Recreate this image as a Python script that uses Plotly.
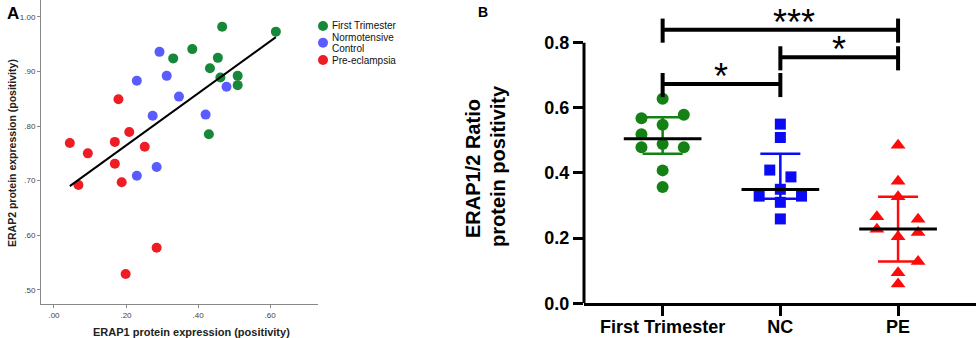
import numpy as np
import plotly.graph_objects as go

# ---------------- Panel A data (ERAP1 vs ERAP2 positivity) ----------------
ft_erap1 = [0.467, 0.616, 0.384, 0.331, 0.455, 0.433, 0.462, 0.510, 0.510, 0.430]
ft_erap2 = [0.982, 0.973, 0.941, 0.924, 0.925, 0.906, 0.889, 0.892, 0.875, 0.785]
nc_erap1 = [0.293, 0.230, 0.313, 0.347, 0.274, 0.421, 0.479, 0.285, 0.230]
nc_erap2 = [0.936, 0.883, 0.892, 0.854, 0.819, 0.821, 0.872, 0.725, 0.709]
pe_erap1 = [0.179, 0.209, 0.169, 0.252, 0.044, 0.094, 0.169, 0.068, 0.188, 0.285, 0.199]
pe_erap2 = [0.849, 0.789, 0.771, 0.762, 0.769, 0.750, 0.731, 0.692, 0.697, 0.577, 0.529]

a_groups = ["First Trimester", "Normotensive Control", "Pre-eclampsia"]
a_legend_lines = [["First Trimester"], ["Normotensive", "Control"], ["Pre-eclampsia"]]
a_xticks = [0.0, 0.2, 0.4, 0.6]
a_xticktext = [".00", ".20", ".40", ".60"]
a_yticks = [0.5, 0.6, 0.7, 0.8, 0.9, 1.0]
a_yticktext = [".50", ".60", ".70", ".80", ".90", "1.00"]
a_xtitle = "ERAP1 protein expression (positivity)"
a_ytitle = "ERAP2 protein expression (positivity)"

# ---------------- Panel B data (ERAP1/2 ratio) ----------------
b_categories = ["First Trimester", "NC", "PE"]
ft_ratio = [0.628, 0.568, 0.579, 0.548, 0.519, 0.479, 0.489, 0.479, 0.408, 0.357]
ft_offset = [0.0, -0.18, 0.18, 0.0, -0.18, -0.18, 0.0, 0.18, 0.0, 0.0]
nc_ratio = [0.550, 0.509, 0.409, 0.388, 0.350, 0.329, 0.329, 0.310, 0.259]
nc_offset = [0.0, 0.0, -0.09, 0.09, 0.0, -0.18, 0.18, 0.0, 0.0]
pe_ratio = [0.485, 0.375, 0.327, 0.266, 0.227, 0.258, 0.217, 0.204, 0.128, 0.094, 0.059]
pe_offset = [0.0, 0.0, 0.0, -0.18, -0.18, 0.17, 0.17, 0.0, 0.17, 0.0, 0.0]
b_center = [0.505, 0.349, 0.228]
b_upper = [0.571, 0.459, 0.327]
b_lower = [0.459, 0.321, 0.128]
b_yticks = [0.0, 0.2, 0.4, 0.6, 0.8]
b_yticktext = ["0.0", "0.2", "0.4", "0.6", "0.8"]
b_ytitle_lines = ["ERAP1/2 Ratio", "protein positivity"]

# significance comparisons: (from category, to category, bar height, label)
sig_pairs = [(0, 1, 0.673, "*"), (1, 2, 0.755, "*"), (0, 2, 0.840, "***")]

A_COLORS = ["#17883a", "#5a5cff", "#ee1d24"]
B_COLORS = ["#138113", "#0a0af5", "#ff0a0a"]
FONT = "Liberation Sans, Arial, sans-serif"
W, H = 979.0, 338.0

fig = go.Figure()

# ---- Panel A scatter
for name, xs, ys, col in zip(a_groups, [ft_erap1, nc_erap1, pe_erap1],
                             [ft_erap2, nc_erap2, pe_erap2], A_COLORS):
    fig.add_trace(go.Scatter(x=xs, y=ys, mode="markers", name=name, showlegend=False,
                             marker=dict(color=col, size=10, line=dict(width=0)),
                             xaxis="x", yaxis="y"))

all_x = np.array(ft_erap1 + nc_erap1 + pe_erap1)
all_y = np.array(ft_erap2 + nc_erap2 + pe_erap2)
slope, intercept = np.polyfit(all_x, all_y, 1)
fx = np.array([all_x.min(), all_x.max()])
fig.add_trace(go.Scatter(x=fx, y=slope * fx + intercept, mode="lines",
                         line=dict(color="black", width=2), showlegend=False,
                         hoverinfo="skip", xaxis="x", yaxis="y"))

# ---- Panel A legend (drawn manually for compact spacing)
leg_rows_y = [26, 42.7, 60]
for col, lines, yc in zip(A_COLORS, a_legend_lines, leg_rows_y):
    fig.add_shape(type="circle", xref="paper", yref="paper",
                  xsizemode="pixel", ysizemode="pixel",
                  xanchor=323 / W, yanchor=1 - yc / H, x0=-5, x1=5, y0=-5, y1=5,
                  fillcolor=col, line=dict(width=0))
    n = len(lines)
    for k, t in enumerate(lines):
        ty = yc + (k - (n - 1) / 2) * 11
        fig.add_annotation(x=330 / W, y=1 - ty / H, xref="paper", yref="paper",
                           text=t, showarrow=False, xanchor="left", yanchor="middle",
                           font=dict(size=10, color="#111"))

# ---- Panel B dot plot
symbols = ["circle", "square", "triangle-up"]
sizes = [12, 11, 13]
for i, (vals, offs) in enumerate([(ft_ratio, ft_offset), (nc_ratio, nc_offset), (pe_ratio, pe_offset)]):
    fig.add_trace(go.Scatter(x=[i + o for o in offs], y=vals, mode="markers",
                             marker=dict(color=B_COLORS[i], symbol=symbols[i], size=sizes[i],
                                         line=dict(width=0)),
                             showlegend=False, xaxis="x2", yaxis="y2"))
for i in range(3):
    fig.add_trace(go.Scatter(x=[i], y=[b_center[i]], mode="markers",
                             marker=dict(size=1, color=B_COLORS[i], opacity=0),
                             error_y=dict(type="data", symmetric=False,
                                          array=[b_upper[i] - b_center[i]],
                                          arrayminus=[b_center[i] - b_lower[i]],
                                          color=B_COLORS[i], thickness=2.5, width=20),
                             showlegend=False, xaxis="x2", yaxis="y2"))
    fig.add_trace(go.Scatter(x=[i - 0.33, i + 0.33], y=[b_center[i]] * 2, mode="lines",
                             line=dict(color="black", width=3),
                             showlegend=False, xaxis="x2", yaxis="y2"))

# significance brackets
for a, b, h, lab in sig_pairs:
    fig.add_shape(type="line", xref="x2", yref="y2", x0=a, x1=b, y0=h, y1=h,
                  line=dict(color="black", width=4))
    for xe in (a, b):
        fig.add_shape(type="line", xref="x2", yref="y2", x0=xe, x1=xe,
                      y0=h - 0.04, y1=h + 0.034, line=dict(color="black", width=4))
    xm = (a + b) / 2 + (0.12 if lab == "***" else 0.0)
    fig.add_annotation(x=xm, y=h, xref="x2", yref="y2", text=lab, showarrow=False,
                       yanchor="bottom", yshift=-15,
                       font=dict(family=FONT, size=36, color="black"))

# y axis line of panel B (only up to 0.8)
fig.add_shape(type="line", xref="x2 domain", yref="y2", x0=0, x1=0, y0=0, y1=0.8,
              line=dict(color="black", width=3))

# axis titles as annotations
fig.add_annotation(x=191 / W, y=1 - 332 / H, xref="paper", yref="paper",
                   text="<b>%s</b>" % a_xtitle, showarrow=False,
                   xanchor="center", yanchor="middle", font=dict(size=11, color="#222"))
fig.add_annotation(x=12 / W, y=1 - 153 / H, xref="paper", yref="paper",
                   text="<b>%s</b>" % a_ytitle, showarrow=False, textangle=-90,
                   xanchor="center", yanchor="middle", font=dict(size=10.5, color="#222"))
for t, xc, yc in zip(b_ytitle_lines, [473, 498], [169, 166]):
    fig.add_annotation(x=xc / W, y=1 - yc / H, xref="paper", yref="paper",
                       text="<b>%s</b>" % t, showarrow=False, textangle=-90,
                       xanchor="center", yanchor="middle", font=dict(size=20, color="black"))

fig.update_layout(
    width=979, height=338, autosize=False,
    margin=dict(l=0, r=0, t=0, b=0, pad=0),
    paper_bgcolor="white", plot_bgcolor="white",
    font=dict(family=FONT, color="black"),
    showlegend=False,
    xaxis=dict(domain=[41 / W, 318 / W], range=[-0.036, 0.733], showgrid=False,
               zeroline=False, showline=True, linecolor="#888", linewidth=1,
               ticks="outside", ticklen=3, tickcolor="#888", automargin=False,
               tickvals=a_xticks, ticktext=a_xticktext,
               tickfont=dict(size=8, color="#444"), anchor="y"),
    yaxis=dict(domain=[1 - 304 / H, 1.0], range=[0.474, 1.031], showgrid=False,
               zeroline=False, showline=True, linecolor="#888", linewidth=1,
               ticks="outside", ticklen=3, tickcolor="#888", automargin=False,
               tickvals=a_yticks, ticktext=a_yticktext,
               tickfont=dict(size=8, color="#444"), anchor="x"),
    xaxis2=dict(domain=[584 / W, 976 / W], range=[-0.668, 2.662], showgrid=False,
                zeroline=False, showline=True, linecolor="black", linewidth=3,
                ticks="outside", ticklen=10, tickwidth=3, tickcolor="black",
                automargin=False, ticklabelstandoff=-5,
                tickvals=[0, 1, 2], ticktext=["<b>%s</b>" % c for c in b_categories],
                tickfont=dict(size=18, color="black"), anchor="y2"),
    yaxis2=dict(domain=[1 - 303.3 / H, 1.0], range=[0, 0.931], showgrid=False,
                zeroline=False, showline=False,
                ticks="outside", ticklen=10, tickwidth=3, tickcolor="black",
                automargin=False,
                tickvals=b_yticks, ticktext=["<b>%s</b>" % t for t in b_yticktext],
                tickfont=dict(size=18, color="black"), anchor="x2"),
)

fig.add_annotation(x=13 / W, y=1 - 14 / H, xref="paper", yref="paper", text="<b>A</b>",
                   showarrow=False, xanchor="center", yanchor="middle",
                   font=dict(size=17, color="black"))
fig.add_annotation(x=483 / W, y=1 - 12 / H, xref="paper", yref="paper", text="<b>B</b>",
                   showarrow=False, xanchor="center", yanchor="middle",
                   font=dict(size=14, color="black"))

fig.write_html("out.html", config={"displayModeBar": False},
               post_script="document.body.style.margin='0px';")
